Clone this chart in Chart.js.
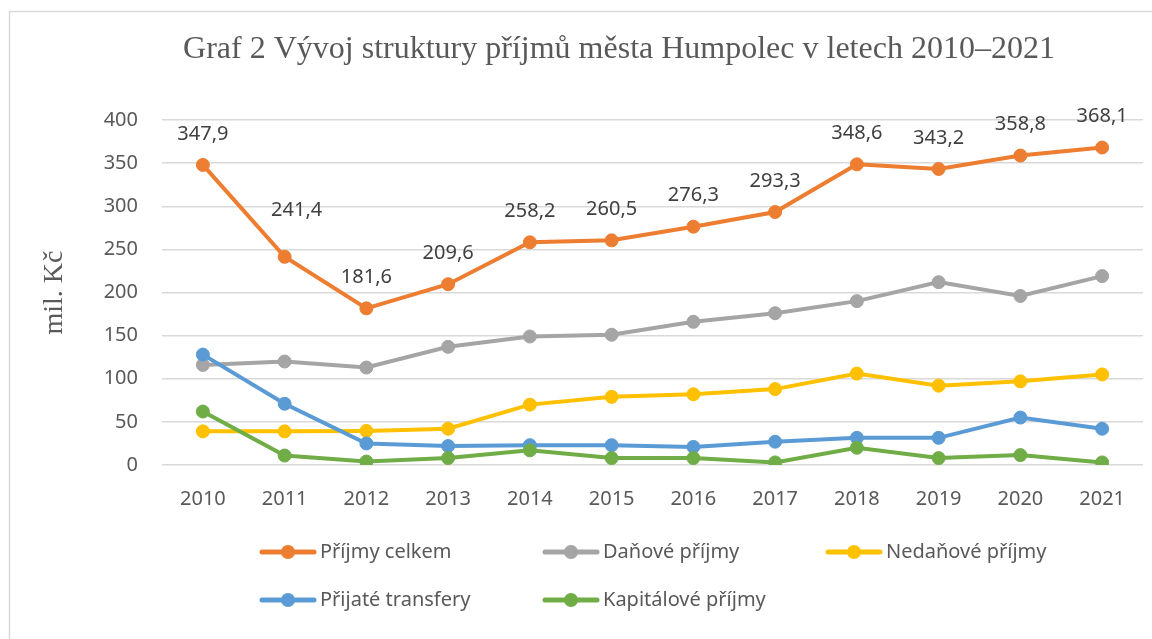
<!DOCTYPE html>
<html>
<head>
<meta charset="utf-8">
<script src="https://cdn.jsdelivr.net/npm/chart.js@4/dist/chart.umd.min.js"></script>
<style>
    html, body { margin: 0; padding: 0; background: #fff; }
</style>
</head>
<body>
<canvas id="chart" width="1152" height="639"></canvas>
<script>
const years = ["2010", "2011", "2012", "2013", "2014", "2015", "2016", "2017", "2018", "2019", "2020", "2021"];
const prijmyCelkem = [347.9, 241.4, 181.6, 209.6, 258.2, 260.5, 276.3, 293.3, 348.6, 343.2, 358.8, 368.1];
const danovePrijmy = [116, 120, 113, 137, 149, 151, 166, 176, 190, 212, 196, 219];
const nedanovePrijmy = [39, 39, 39.5, 42, 70, 79, 82, 88, 106, 92, 97, 105];
const prijateTransfery = [128, 71, 25, 22, 23, 23, 21, 27, 31.5, 31.5, 55, 42];
const kapitalovePrijmy = [62, 11, 4, 8, 17, 8, 8, 3, 20, 8, 11.5, 3];
const seriesNames = ["Příjmy celkem", "Daňové příjmy", "Nedaňové příjmy", "Přijaté transfery", "Kapitálové příjmy"];
const seriesColors = ["#ED7D31", "#A5A5A5", "#FFC000", "#5B9BD5", "#70AD47"];
const chartTitle = "Graf 2 Vývoj struktury příjmů města Humpolec v letech 2010–2021";

const textColor = "#595959";
const sansFont = "'Noto Sans', sans-serif";
const serifFont = "'Liberation Serif', 'Times New Roman', serif";

const allSeries = [prijmyCelkem, danovePrijmy, nedanovePrijmy, prijateTransfery, kapitalovePrijmy];

// frame around the whole chart + the title, like the Excel chart area
const framePlugin = {
    id: "frame",
    beforeDraw(chart) {
        const ctx = chart.ctx;
        ctx.save();
        ctx.fillStyle = "#fff";
        ctx.fillRect(0, 0, chart.width, chart.height);
        ctx.strokeStyle = "#D9D9D9";
        ctx.lineWidth = 1.5;
        ctx.strokeRect(9.5, 11.5, chart.width + 20, chart.height + 20);
        ctx.fillStyle = textColor;
        ctx.font = "32px " + serifFont;
        ctx.textAlign = "center";
        ctx.textBaseline = "alphabetic";
        ctx.fillText(chartTitle, 619, 58);
        ctx.restore();
    }
};

// value labels above the "Příjmy celkem" points
const valueLabels = {
    id: "valueLabels",
    afterDatasetsDraw(chart, args, opts) {
        const ctx = chart.ctx;
        const meta = chart.getDatasetMeta(0);
        ctx.save();
        ctx.font = "20px " + sansFont;
        ctx.fillStyle = "#404040";
        ctx.textAlign = "center";
        ctx.textBaseline = "middle";
        meta.data.forEach((pt, i) => {
            const shift = opts.shift[i] || [0, 0];
            const txt = prijmyCelkem[i].toFixed(1).replace(".", ",");
            ctx.fillText(txt, pt.x + shift[0], pt.y - 31 + shift[1]);
        });
        ctx.restore();
    }
};

// two-row legend laid out in fixed columns
const gridLegend = {
    id: "gridLegend",
    afterDraw(chart) {
        const ctx = chart.ctx;
        const left = chart.chartArea.left + 98;
        const colW = 283;
        const rows = [552, 600];
        ctx.save();
        ctx.font = "20px " + sansFont;
        ctx.textBaseline = "middle";
        ctx.textAlign = "left";
        chart.data.datasets.forEach((ds, i) => {
            const x = left + (i % 3) * colW;
            const y = rows[Math.floor(i / 3)];
            ctx.strokeStyle = ds.borderColor;
            ctx.lineWidth = 5;
            ctx.lineCap = "round";
            ctx.beginPath();
            ctx.moveTo(x + 2, y);
            ctx.lineTo(x + 54, y);
            ctx.stroke();
            ctx.fillStyle = ds.borderColor;
            ctx.beginPath();
            ctx.arc(x + 28, y, 7, 0, Math.PI * 2);
            ctx.fill();
            ctx.fillStyle = textColor;
            ctx.fillText(ds.label, x + 60, y);
        });
        ctx.restore();
    }
};

const ctx = document.getElementById("chart").getContext("2d");
const chart = new Chart(ctx, {
    type: "line",
    data: {
        labels: years,
        datasets: allSeries.map((values, i) => ({
            label: seriesNames[i],
            data: values,
            borderColor: seriesColors[i],
            backgroundColor: seriesColors[i],
            pointBackgroundColor: seriesColors[i],
            pointBorderColor: seriesColors[i],
            borderWidth: 4,
            pointRadius: 6.5,
            pointBorderWidth: 1,
            tension: 0,
            fill: false,
            order: 4 - i
        }))
    },
    options: {
        responsive: false,
        animation: false,
        devicePixelRatio: 1,
        layout: { padding: { left: 0, right: 9, top: 120, bottom: 0 } },
        plugins: {
            legend: { display: false },
            tooltip: { enabled: false },
            title: { display: false },
            valueLabels: { shift: [[0, 0], [12, -15]] }
        },
        scales: {
            x: {
                offset: true,
                grid: { display: false },
                border: { display: false },
                ticks: {
                    color: textColor,
                    font: { family: sansFont, size: 20 },
                    padding: 14,
                    maxRotation: 0
                },
                afterFit(scale) { scale.height = 174; }
            },
            y: {
                min: 0,
                max: 400,
                grid: { color: "#D9D9D9", lineWidth: 1.5, drawTicks: false },
                border: { display: false },
                ticks: {
                    stepSize: 50,
                    color: textColor,
                    font: { family: sansFont, size: 20 },
                    padding: 24
                },
                title: {
                    display: true,
                    text: "mil. Kč",
                    color: textColor,
                    font: { family: serifFont, size: 28, weight: "normal" },
                    padding: { top: 38, bottom: 0 }
                },
                afterFit(scale) { scale.width = 162; }
            }
        }
    },
    plugins: [framePlugin, valueLabels, gridLegend]
});
</script>
</body>
</html>
